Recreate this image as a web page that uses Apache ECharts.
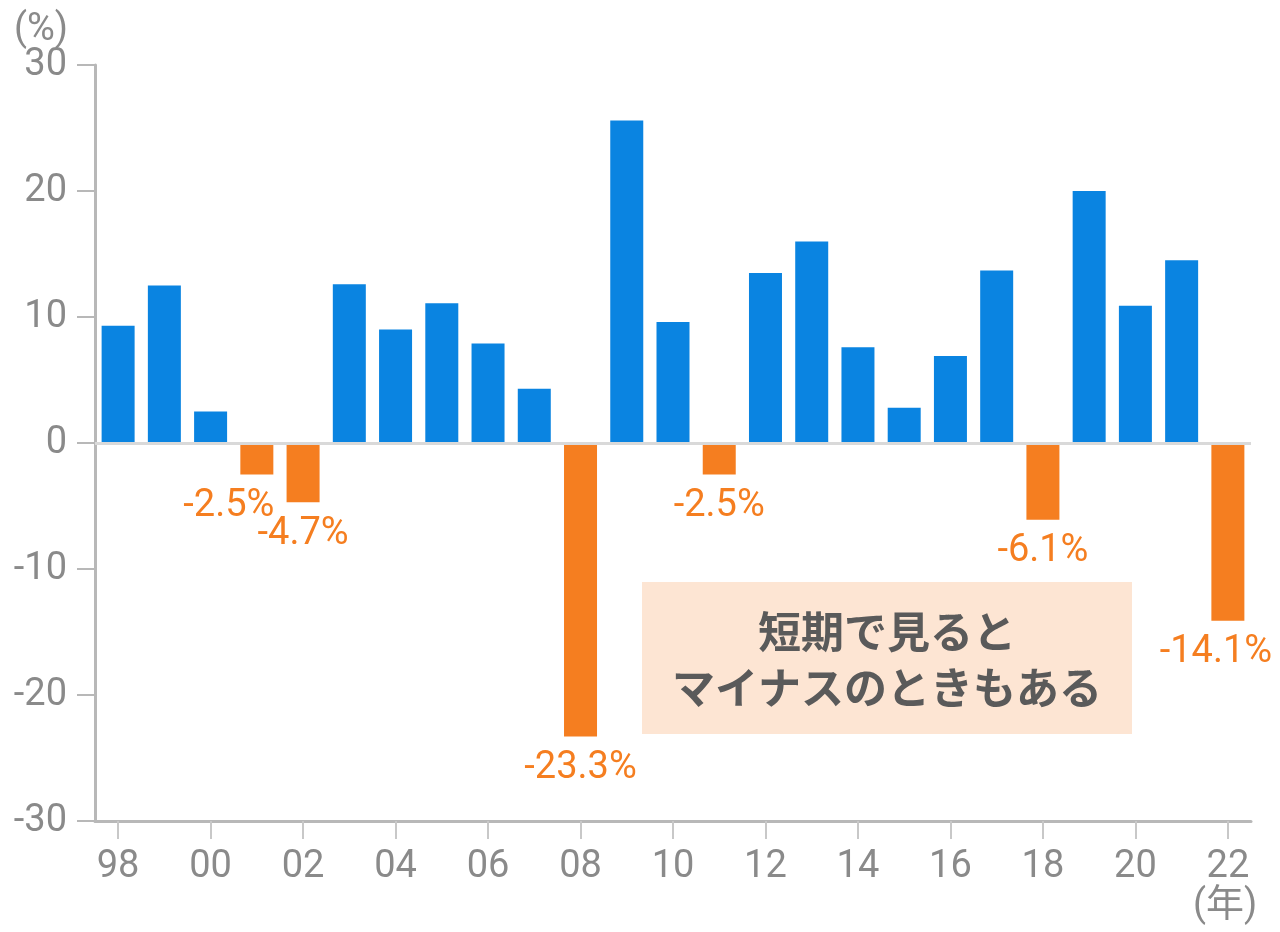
<!DOCTYPE html>
<html>
<head>
<meta charset="utf-8">
<script src="https://cdn.jsdelivr.net/npm/echarts@6/dist/echarts.min.js"></script>
<style>html,body{margin:0;padding:0;background:#fff}#c{width:1280px;height:932px}</style>
</head>
<body>
<div id="c"></div>
<script>
var years = ['98','99','00','01','02','03','04','05','06','07','08','09','10','11','12','13','14','15','16','17','18','19','20','21','22'];
var values = [9.3,12.5,2.5,-2.5,-4.7,12.6,9.0,11.1,7.9,4.3,-23.3,25.6,9.6,-2.5,13.5,16.0,7.6,2.8,6.9,13.7,-6.1,20.0,10.9,14.5,-14.1];
var yTicks = [-30,-20,-10,0,10,20,30];
var labelOffsets = {'01':[-28,0],'22':[-12,0]};
var BLUE = '#0a84e1', ORANGE = '#f57e20';
var FONT = "Roboto, 'Noto Sans CJK JP', sans-serif";

var data = values.map(function(v,i){
  var neg = v < 0;
  return {
    value: v,
    itemStyle: {color: neg ? ORANGE : BLUE},
    label: neg ? {show:true, position:'bottom', distance:13, offset: labelOffsets[years[i]] || [0,0],
      formatter: v.toFixed(1) + '%', color: ORANGE, fontSize: 38, fontFamily: FONT} : {show:false}
  };
});

var chart = echarts.init(document.getElementById('c'), null, {renderer:'canvas'});
chart.setOption({
  animation:false,
  grid:{left:95, right:29, top:65, bottom:111, containLabel:false},
  xAxis:{
    type:'category', data: years, boundaryGap:true,
    axisLine:{onZero:false, lineStyle:{color:'#b8b8b8', width:3}},
    axisTick:{show:true, interval:1, alignWithLabel:true, length:18, lineStyle:{color:'#c8c8c8', width:2}},
    axisLabel:{interval:1, color:'#8a8a8a', fontSize:38, fontFamily:FONT, margin:27}
  },
  yAxis:{
    type:'value', min:-30, max:30, interval:10,
    axisLine:{show:true, lineStyle:{color:'#b8b8b8', width:3}},
    axisTick:{show:true, length:18, lineStyle:{color:'#b8b8b8', width:2}},
    splitLine:{show:false},
    axisLabel:{color:'#8a8a8a', fontSize:38, fontFamily:FONT, margin:28,
      formatter:function(v){return yTicks.indexOf(v)>=0 ? String(v) : '';}}
  },
  series:[{
    type:'bar', data:data, barWidth:33,
    markLine:{silent:true, symbol:['none','none'], label:{show:false},
      lineStyle:{color:'#d9d9d9', width:3, type:'solid'}, data:[{yAxis:0}]}
  }],
  graphic:[
    {type:'text', left:14, top:11, style:{text:'(%)', fill:'#8a8a8a', font:'38px '+FONT}},
    {type:'text', left:1193, top:887, style:{text:'(年)', fill:'#8a8a8a', font:'38px '+FONT}},
    {type:'rect', left:642, top:582, shape:{width:490, height:152}, style:{fill:'#fde5d3'}},
    {type:'text', x:887, y:660, style:{text:'短期で見ると\nマイナスのときもある', fill:'#5a5a5a',
      font:"bold 43px 'Noto Sans CJK JP', sans-serif", align:'center', verticalAlign:'middle', lineHeight:56}}
  ]
});
</script>
</body>
</html>
